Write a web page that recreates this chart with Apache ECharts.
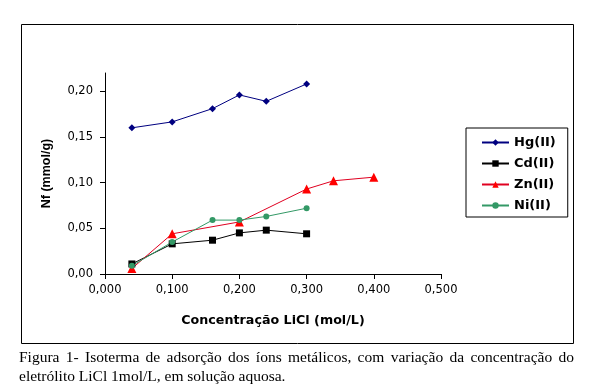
<!DOCTYPE html>
<html>
<head>
<meta charset="utf-8">
<script src="https://cdn.jsdelivr.net/npm/echarts@6/dist/echarts.min.js"></script>
<style>
html,body{margin:0;padding:0;background:#fff;}
#c{width:592px;height:390px;}
</style>
</head>
<body>
<div id="c"></div>
<script>
// ---- data ----
var seriesNames = ['Hg(II)', 'Cd(II)', 'Zn(II)', 'Ni(II)'];
var xHg = [0.04, 0.10, 0.16, 0.20, 0.24, 0.30];
var yHg = [0.160, 0.1665, 0.181, 0.196, 0.189, 0.208];
var xCd = [0.04, 0.10, 0.16, 0.20, 0.24, 0.30];
var yCd = [0.011, 0.033, 0.037, 0.045, 0.048, 0.044];
var xZn = [0.04, 0.10, 0.20, 0.30, 0.34, 0.40];
var yZn = [0.006, 0.044, 0.057, 0.093, 0.102, 0.106];
var xNi = [0.04, 0.10, 0.16, 0.20, 0.24, 0.30];
var yNi = [0.009, 0.035, 0.059, 0.059, 0.063, 0.072];
var xTicks = [0, 0.1, 0.2, 0.3, 0.4, 0.5];
var yTicks = [0, 0.05, 0.10, 0.15, 0.20];
var xTitle = 'Concentração LiCl (mol/L)';
var yTitle = 'Nf (mmol/g)';
var captionLine1 = 'Figura 1- Isoterma de adsorção dos íons metálicos, com variação da concentração do';
var captionLine2 = 'eletrólito LiCl 1mol/L, em solução aquosa.';

function pairs(xs, ys) { return xs.map(function (x, i) { return [x, ys[i]]; }); }

// ---- caption layout (justified first line) ----
var capFont = '15.5px "Liberation Serif"';
var capLeft = 19, capRight = 574;
var meas = document.createElement('canvas').getContext('2d');
meas.font = capFont;
var words = captionLine1.split(' ');
var wWidths = words.map(function (w) { return meas.measureText(w).width; });
var totalW = wWidths.reduce(function (a, b) { return a + b; }, 0);
var gap = (capRight - capLeft - totalW) / (words.length - 1);
var capGraphics = [];
var cx = capLeft;
words.forEach(function (w, i) {
  capGraphics.push({
    type: 'text', left: cx, top: 350,
    style: { text: w, font: capFont, fill: '#000' }
  });
  cx += wWidths[i] + gap;
});
capGraphics.push({
  type: 'text', left: capLeft, top: 369,
  style: { text: captionLine2, font: capFont, fill: '#000' }
});

var chart = echarts.init(document.getElementById('c'), null, { renderer: 'canvas' });
var tickFont = { fontFamily: 'DejaVu Sans', fontSize: 11.5, color: '#000' };

chart.setOption({
  backgroundColor: '#fff',
  animation: false,
  grid: { left: 105, right: 151, top: 73, bottom: 116, containLabel: false },
  xAxis: {
    type: 'value', min: 0, max: 0.5, interval: 0.1,
    name: xTitle, nameLocation: 'middle', nameGap: 40,
    nameTextStyle: { fontFamily: 'DejaVu Sans', fontWeight: 'bold', fontSize: 12.7, color: '#000' },
    axisLine: { show: true, onZero: false, lineStyle: { color: '#000', width: 1 } },
    axisTick: { show: true, length: 5, lineStyle: { color: '#000' }, customValues: xTicks },
    axisLabel: Object.assign({ margin: 10, customValues: xTicks,
      formatter: function (v) { return v.toFixed(3).replace('.', ','); } }, tickFont),
    splitLine: { show: false }
  },
  yAxis: {
    type: 'value', min: 0, max: 0.22, interval: 0.05,
    name: yTitle, nameLocation: 'middle', nameGap: 52, nameRotate: 90,
    nameTextStyle: { fontFamily: 'Liberation Sans', fontWeight: 'bold', fontSize: 12.5, color: '#000' },
    axisLine: { show: true, lineStyle: { color: '#000', width: 1 } },
    axisTick: { show: true, length: 5, lineStyle: { color: '#000' }, customValues: yTicks },
    axisLabel: Object.assign({ margin: 12, customValues: yTicks,
      formatter: function (v) { return v.toFixed(2).replace('.', ','); } }, tickFont),
    splitLine: { show: false }
  },
  legend: {
    orient: 'vertical', left: 466, top: 128,
    data: seriesNames,
    itemWidth: 27, itemHeight: 8, itemGap: 8,
    padding: [8, 12, 5, 15],
    borderColor: '#000', borderWidth: 1,
    textStyle: { fontFamily: 'DejaVu Sans', fontWeight: 'bold', fontSize: 13, color: '#000' }
  },
  series: [
    { name: seriesNames[0], type: 'line', data: pairs(xHg, yHg), symbol: 'diamond', symbolSize: 7,
      itemStyle: { color: '#000080' }, lineStyle: { color: '#000080', width: 1 } },
    { name: seriesNames[1], type: 'line', data: pairs(xCd, yCd), symbol: 'rect', symbolSize: 7,
      itemStyle: { color: '#000000' }, lineStyle: { color: '#000000', width: 1 } },
    { name: seriesNames[2], type: 'line', data: pairs(xZn, yZn), symbol: 'triangle', symbolSize: 9,
      itemStyle: { color: '#ff0000' }, lineStyle: { color: '#e00020', width: 1 } },
    { name: seriesNames[3], type: 'line', data: pairs(xNi, yNi), symbol: 'circle', symbolSize: 6,
      itemStyle: { color: '#339966' }, lineStyle: { color: '#339966', width: 1 } }
  ],
  graphic: [
    { type: 'rect', shape: { x: 21.5, y: 24.5, width: 552, height: 319 },
      style: { fill: 'none', stroke: '#000', lineWidth: 1 }, silent: true }
  ].concat(capGraphics)
});
</script>
</body>
</html>
